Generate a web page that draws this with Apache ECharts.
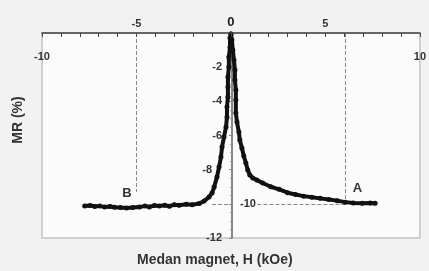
<!DOCTYPE html>
<html><head><meta charset="utf-8">
<script src="https://cdn.jsdelivr.net/npm/echarts@6/dist/echarts.min.js"></script>
<style>html,body{margin:0;padding:0;background:#f2f2f2}#c{width:429px;height:271px}</style>
</head><body><div id="c"></div>
<script>
// H (kOe) and MR (%)
var hLeft  = [-7.74,-7.45,-7.21,-6.95,-6.68,-6.40,-6.16,-5.85,-5.53,-5.20,-4.84,-4.55,-4.32,-4.05,-3.79,-3.50,-3.26,-3.00,-2.74,-2.37,-2.05,-1.68,-1.42,-1.16,-1.00,-0.89,-0.74,-0.63,-0.53,-0.47,-0.37,-0.26,-0.21,-0.21,-0.16,-0.16,-0.16,-0.11,-0.11,-0.05,-0.05,0];
var mrLeft = [-10.13,-10.10,-10.15,-10.12,-10.19,-10.16,-10.20,-10.22,-10.25,-10.21,-10.19,-10.12,-10.18,-10.10,-10.13,-10.08,-10.14,-10.05,-10.08,-10.02,-10.05,-9.98,-9.84,-9.60,-9.37,-9.02,-8.43,-7.85,-7.26,-6.67,-6.09,-5.50,-4.92,-4.33,-3.75,-3.16,-2.58,-1.99,-1.41,-0.82,-0.29,-0.06];
var hRight  = [0,0.05,0.10,0.16,0.21,0.21,0.26,0.26,0.26,0.32,0.42,0.47,0.58,0.68,0.79,0.89,1.00,1.16,1.37,1.68,2.11,2.55,3.00,3.42,3.85,4.28,4.72,5.18,5.63,6.05,6.47,6.95,7.37,7.63];
var mrRight = [-0.06,-0.41,-1.00,-1.58,-2.17,-2.75,-3.34,-3.92,-4.68,-5.21,-5.80,-6.26,-6.73,-7.20,-7.61,-8.02,-8.31,-8.49,-8.61,-8.78,-9.00,-9.15,-9.35,-9.45,-9.55,-9.62,-9.68,-9.74,-9.82,-9.90,-9.95,-9.96,-9.95,-9.96];
var xTicks = [-10,-5,0,5,10];
var yTicks = [0,-2,-4,-6,-8,-10,-12];
var pointB = [-5.5,-9.4], pointA = [6.7,-9.1];
var guideB = -5, guideA = 6.05, guideY = -10, guideBTop = -9.3, guideLeft = -1.0, labelGapEnd = 1.4, label10X = 0.9;

var gridLeft = 42, gridRight = 7, W = 429;
var xMin = xTicks[0], xMax = xTicks[xTicks.length-1];
// shift the y axis so it sits at H = 0
var yAxisOffset = -((0 - xMin) / (xMax - xMin)) * (W - gridLeft - gridRight);

function pairs(h, m){ return h.map(function(v,i){ return [v, m[i]]; }); }
var dash = {type:'dashed', color:'#888', width:1};
var lblFont = {color:'#333',fontSize:11,fontWeight:'bold',fontFamily:'Liberation Sans'};
var chart = echarts.init(document.getElementById('c'), null, {renderer:'canvas'});
chart.setOption({
  backgroundColor:'#f2f2f2',
  animation:false,
  grid:{left:gridLeft,right:gridRight,top:33,bottom:33,show:true,backgroundColor:'#fbfbfb',borderColor:'#c4c4c4',borderWidth:1.5},
  xAxis:[{
    type:'value',position:'top',min:xMin,max:xMax,interval:1,z:10,
    axisLine:{onZero:false,lineStyle:{color:'#444',width:1.5}},
    axisTick:{show:true,inside:true,length:4,lineStyle:{color:'#444',width:1}},
    splitLine:{show:false},
    axisLabel:Object.assign({margin:4,showMinLabel:true,showMaxLabel:true,
      formatter:function(v){ if (xTicks.indexOf(v)<0 || v===-10 || v===10) return ''; return v===0?'{z|0}':String(v); },
      rich:{z:{fontSize:13,fontWeight:'bold',color:'#222',fontFamily:'Liberation Sans'}}}, lblFont)
  },{
    type:'value',position:'top',min:xMin,max:xMax,interval:5,offset:-31,
    axisLine:{show:false,onZero:false},axisTick:{show:false},splitLine:{show:false},
    axisLabel:Object.assign({margin:2,showMinLabel:true,showMaxLabel:true,
      formatter:function(v){ return (v===-10||v===10)?String(v):''; }}, lblFont)
  }],
  yAxis:{
    type:'value',min:yTicks[yTicks.length-1],max:yTicks[0],interval:2,offset:yAxisOffset,
    axisLine:{onZero:false,lineStyle:{color:'#888',width:2}},
    axisTick:{show:true,length:3,lineStyle:{color:'#888'}},
    minorTick:{show:true,splitNumber:4,length:2,lineStyle:{color:'#999'}},
    splitLine:{show:false},
    axisLabel:Object.assign({margin:10,
      formatter:function(v){ if (v===0||v===-10) return ''; return v===-8?'{s|-8}':String(v); },
      rich:{s:{padding:[0,10,0,0],fontSize:11,fontWeight:'bold',color:'#333',fontFamily:'Liberation Sans'}}}, lblFont)
  },
  series:[{
    type:'line',data:pairs(hLeft,mrLeft),symbol:'circle',symbolSize:5,showSymbol:true,
    itemStyle:{color:'#111'},lineStyle:{color:'#111',width:4},z:5,
    markLine:{silent:true,symbol:'none',lineStyle:dash,label:{show:false},data:[
      [{coord:[guideB,0]},{coord:[guideB,guideBTop]}],
      [{coord:[guideA,0]},{coord:[guideA,guideY]}],
      [{coord:[guideLeft,guideY]},{coord:[0,guideY]}],
      [{coord:[labelGapEnd,guideY]},{coord:[guideA,guideY]}]
    ]},
    markPoint:{symbol:'circle',symbolSize:0,silent:true,data:[
      {coord:pointB,label:{show:true,position:'inside',formatter:'B',color:'#333',fontSize:13,fontWeight:'bold',fontFamily:'Liberation Sans'}},
      {coord:pointA,label:{show:true,position:'inside',formatter:'A',color:'#333',fontSize:13,fontWeight:'bold',fontFamily:'Liberation Sans'}},
      {coord:[label10X,guideY],label:{show:true,position:'inside',formatter:'-10',color:'#333',fontSize:11,fontWeight:'bold',fontFamily:'Liberation Sans'}}
    ]}
  },{
    type:'line',data:pairs(hRight,mrRight),symbol:'circle',symbolSize:5,showSymbol:true,
    itemStyle:{color:'#111'},lineStyle:{color:'#111',width:4},z:5
  }],
  graphic:[
    {type:'text',left:137,top:253,style:{text:'Medan magnet, H (kOe)',fill:'#333',font:'bold 14px "Liberation Sans"'}},
    {type:'text',x:18,y:120,rotation:Math.PI/2,style:{text:'MR (%)',fill:'#333',font:'bold 14px "Liberation Sans"',align:'center',verticalAlign:'middle'}}
  ]
});
</script></body></html>
